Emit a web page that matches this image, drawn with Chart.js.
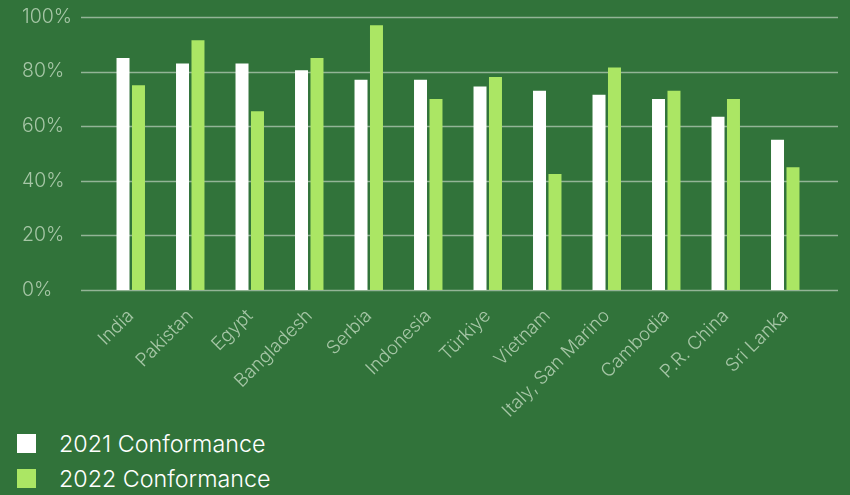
<!DOCTYPE html>
<html>
<head>
<meta charset="utf-8">
<script src="https://cdn.jsdelivr.net/npm/chart.js@4"></script>
<style>
  html, body { margin: 0; padding: 0; background: #31733a; }
  body { width: 850px; height: 495px; overflow: hidden; position: relative; font-family: Inter, sans-serif; }
  #wrap { position: absolute; left: 0; top: 0; width: 850px; height: 420px; }
  #legend { position: absolute; left: 17px; top: 426px; }
  .item { display: flex; align-items: center; height: 35px; color: #fff; font-size: 23.3px; font-weight: 300; }
  .box { width: 19px; height: 19px; margin-right: 23px; }
</style>
</head>
<body>
<div id="wrap"><canvas id="chart"></canvas></div>
<div id="legend"></div>
<script>
const countries = ['India', 'Pakistan', 'Egypt', 'Bangladesh', 'Serbia', 'Indonesia', 'Türkiye', 'Vietnam', 'Italy, San Marino', 'Cambodia', 'P.R. China', 'Sri Lanka'];
const conf2021 = [85, 83, 83, 80.5, 77, 77, 74.5, 73, 71.5, 70, 63.5, 55];
const conf2022 = [75, 91.5, 65.5, 85, 97, 70, 78, 42.5, 81.5, 73, 70, 45];
const seriesNames = ['2021 Conformance', '2022 Conformance'];
const seriesColors = ['#ffffff', '#abe664'];

const tickColor = '#a6c6a6';

// grid lines reach wider than the plot area in the original
const wideGrid = {
    id: 'wideGrid',
    beforeDatasetsDraw(chart) {
        const y = chart.scales.y;
        const c = chart.ctx;
        c.save();
        c.strokeStyle = 'rgba(200,215,200,0.65)';
        c.lineWidth = 1.5;
        y.ticks.forEach(t => {
            const py = Math.round(y.getPixelForValue(t.value)) + 0.5;
            c.beginPath();
            c.moveTo(81, py);
            c.lineTo(838, py);
            c.stroke();
        });
        c.restore();
    }
};

const chart = new Chart(document.getElementById('chart'), {
    type: 'bar',
    data: {
        labels: countries,
        datasets: [
            { label: seriesNames[0], data: conf2021, backgroundColor: seriesColors[0] },
            { label: seriesNames[1], data: conf2022, backgroundColor: seriesColors[1] }
        ]
    },
    options: {
        responsive: true,
        maintainAspectRatio: false,
        animation: false,
        categoryPercentage: 0.52,
        barPercentage: 0.84,
        layout: { padding: { left: 22, right: 35, top: 17, bottom: 0 } },
        plugins: { legend: { display: false }, tooltip: { enabled: false } },
        scales: {
            x: {
                grid: { display: false },
                border: { display: false },
                ticks: {
                    color: tickColor,
                    font: { family: 'Inter', size: 18.5, weight: 300 },
                    minRotation: 45,
                    maxRotation: 45,
                    padding: 7
                },
                afterFit(s) { s.height = 130; }
            },
            y: {
                min: 0,
                max: 100,
                grid: { display: false },
                border: { display: false },
                ticks: {
                    stepSize: 20,
                    color: tickColor,
                    font: { family: 'Inter', size: 19.5, weight: 300 },
                    crossAlign: 'far',
                    callback: v => v + '%'
                },
                afterFit(s) { s.width = 79; }
            }
        }
    },
    plugins: [wideGrid]
});

const legend = document.getElementById('legend');
chart.data.datasets.forEach(ds => {
    const row = document.createElement('div');
    row.className = 'item';
    row.innerHTML = '<span class="box" style="background:' + ds.backgroundColor + '"></span><span>' + ds.label + '</span>';
    legend.appendChild(row);
});
</script>
</body>
</html>
